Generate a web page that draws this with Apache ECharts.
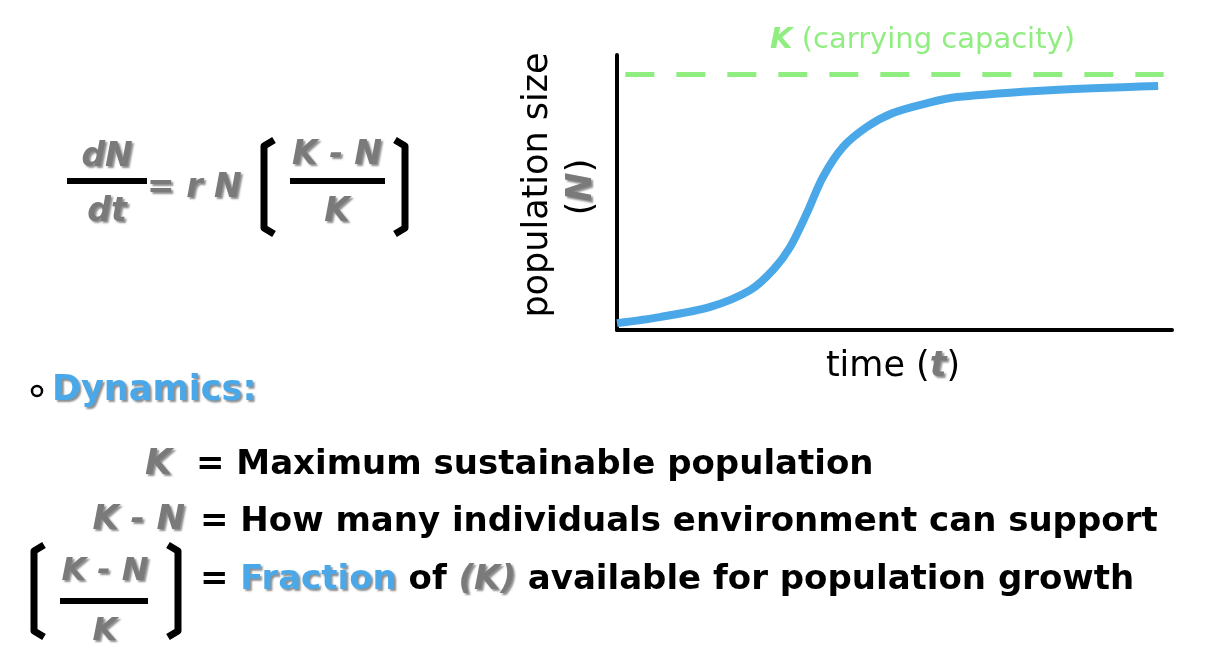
<!DOCTYPE html>
<html><head><meta charset="utf-8">
<script src="https://cdn.jsdelivr.net/npm/echarts@6/dist/echarts.min.js"></script>
<style>html,body{margin:0;padding:0;background:#fff}#c{width:1222px;height:670px}</style>
</head><body><div id="c"></div>
<script>
const timeValues = [0, 7.7, 16.8, 24, 28.1, 31.2, 34.2, 37.1, 40.7, 45, 49.7, 55.9, 61.3, 78, 97.5];
const popValues = [2.5, 4.7, 8.4, 14.5, 21.8, 30.2, 42.5, 55.6, 66.5, 73.8, 78.9, 82.5, 84.7, 87.2, 88.7];
const carryingCapacity = 93.1;
const F = 'DejaVu Sans, Liberation Sans, sans-serif';
const grey = '#7a7a7a', blue = '#4aa8e8', green = '#90ee80';
const sh = {textShadowColor:'rgba(0,0,0,0.45)', textShadowBlur:2, textShadowOffsetX:2, textShadowOffsetY:2};
function T(x,y,text,size,fill,extra){return {type:'text',x,y,style:Object.assign({text,fontSize:size,fontFamily:F,fontWeight:'bold',fill,textVerticalAlign:'middle'},extra||{})};}
function G(x,y,text,size,extra){return T(x,y,text,size,grey,Object.assign({fontStyle:'italic'},sh,extra||{}));}
function line(x1,y1,x2,y2,w){return {type:'line',shape:{x1,y1,x2,y2},style:{stroke:'#000',lineWidth:w}};}
function brk(x,top,bot,dir){const d=dir*10;return {type:'polyline',shape:{points:[[x+d,top],[x,top+6],[x,bot-6],[x+d,bot]]},style:{stroke:'#000',lineWidth:7,lineJoin:'round',fill:null}};}
const rk = s => Object.assign({fontWeight:'bold',fontStyle:'italic',fontSize:s,fill:grey,fontFamily:F},sh);
const chart = echarts.init(document.getElementById('c'));
chart.setOption({
  animation:false,
  grid:{left:617,top:55,width:555,height:275},
  xAxis:{type:'value',min:0,max:100,axisLine:{lineStyle:{color:'#000',width:4}},axisTick:{show:false},axisLabel:{show:false},splitLine:{show:false}},
  yAxis:{type:'value',min:0,max:100,axisLine:{show:true,lineStyle:{color:'#000',width:4}},axisTick:{show:false},axisLabel:{show:false},splitLine:{show:false}},
  series:[{type:'line',data:timeValues.map((t,i)=>[t,popValues[i]]),smooth:0.3,symbol:'none',lineStyle:{color:blue,width:8},
    markLine:{symbol:'none',silent:true,label:{show:false},lineStyle:{color:green,type:[29,22],width:5},data:[[{coord:[1.5,carryingCapacity]},{coord:[98.5,carryingCapacity]}]]}}],
  graphic:[
    {type:'text',x:770,y:40,style:{text:'{k|K} (carrying capacity)',fontSize:29,fontFamily:F,fill:green,textVerticalAlign:'middle',rich:{k:{fontWeight:'bold',fontStyle:'italic',fontSize:29,fill:green,fontFamily:F}}}},
    {type:'text',x:538,y:185,rotation:Math.PI/2,style:{text:'population size',fontSize:35,fontFamily:F,fill:'#000',textAlign:'center',textVerticalAlign:'middle'}},
    {type:'text',x:582,y:187,rotation:Math.PI/2,style:{text:'({n|N})',fontSize:35,fontFamily:F,fill:'#000',textAlign:'center',textVerticalAlign:'middle',rich:{n:rk(35)}}},
    {type:'text',x:893,y:367,style:{text:'time ({t|t})',fontSize:35,fontFamily:F,fill:'#000',textAlign:'center',textVerticalAlign:'middle',rich:{t:rk(35)}}},
    G(107,157,'dN',33,{textAlign:'center'}), line(67,181,147,181,6), G(107,212,'dt',33,{textAlign:'center'}),
    G(147,188,'= r N',33),
    brk(264,140,234,1), brk(405,140,234,-1),
    G(337,155,'K - N',33,{textAlign:'center'}), line(290,181,385,181,6), G(337,212,'K',33,{textAlign:'center'}),
    {type:'circle',shape:{cx:37,cy:391,r:5},style:{stroke:'#000',lineWidth:2.5,fill:'#fff'}},
    T(52,391,'Dynamics:',35,blue,sh),
    G(145,465,'K',35), T(196,465,'= Maximum sustainable population',34,'#000'),
    G(185,520,'K - N',34,{textAlign:'right'}), T(200,522,'= How many individuals environment can support',34,'#000'),
    brk(34,545,637,1), brk(178,545,637,-1),
    G(105,572,'K - N',32,{textAlign:'center'}), line(60,601,148,601,6), G(105,632,'K',32,{textAlign:'center'}),
    {type:'text',x:200,y:580,style:{text:'= {f|Fraction} of {k|(K)} available for population growth',fontSize:34,fontWeight:'bold',fontFamily:F,fill:'#000',textVerticalAlign:'middle',
      rich:{f:Object.assign({fontWeight:'bold',fontSize:34,fill:blue,fontFamily:F},sh),k:rk(34)}}}
  ]
});
</script></body></html>
